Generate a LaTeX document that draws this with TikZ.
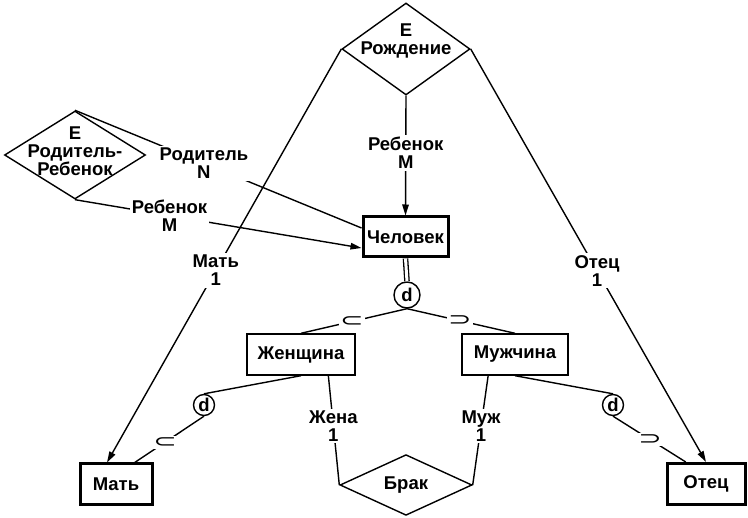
\documentclass[tikz,border=0pt]{standalone}
\usepackage{fontspec}
\setmainfont{Liberation Sans}
\newfontfamily\symfont{DejaVu Sans}
\usepackage{graphicx}
\usepackage{tikz}
\usetikzlibrary{positioning, arrows.meta, calc, shapes.geometric}

\begin{document}
\begin{tikzpicture}[x=1pt, y=-1pt,
  font=\bfseries\fontsize{18.5}{18}\selectfont,
  ent/.style={draw, line width=1.4pt, minimum height=41pt, inner sep=0pt},
  strong/.style={ent, line width=3pt},
  rel/.style={draw, diamond, line width=1.4pt, inner sep=0pt, align=center},
  disj/.style={draw, circle, line width=1.4pt, inner sep=0pt},
  lbl/.style={fill=white, inner sep=2pt, align=center},
  sub/.style={fill=white, inner sep=1.5pt, font=\symfont\mdseries\fontsize{20}{20}\selectfont},
  link/.style={line width=1.4pt},
  arr/.style={link, -{Triangle[length=11pt, width=6.5pt]}}]
\useasboundingbox (0,0) rectangle (748,518);

\node[rel, minimum width=128pt, minimum height=92pt] (birth) at (406,49) {};
\node[align=center] (birthtxt) at (406,41) {E\\Рождение};
\node[rel, minimum width=141pt, minimum height=88pt] (pc) at (75,155) {};
\node[align=center] (pctxt) at (75,151) {E\\Родитель-\\Ребенок};
\node[rel, minimum width=132pt, minimum height=60pt] (marriage) at (406,485) {Брак};

\node[strong, minimum width=85pt, minimum height=40pt] (person) at (405.5,237) {Человек};
\node[ent, minimum width=108pt] (woman) at (301,354.5) {Женщина};
\node[ent, minimum width=106pt] (man) at (515,354.5) {Мужчина};
\node[strong, minimum width=72pt] (mother) at (116,484.5) {Мать};
\node[strong, minimum width=78pt] (father) at (706,484) {Отец};

\node[disj, minimum size=26pt] (dd) at (407,295) {d};
\node[disj, minimum size=21pt] (wd) at (204,405) {d};
\node[disj, minimum size=21pt] (md) at (613,405) {d};

\draw[arr] (birth.south) -- node[lbl, pos=0.48] {Ребенок\\М} (person.north);
\draw[arr] (birth.west) -- node[lbl, pos=0.536] {Мать\\1} ([xshift=-9pt]mother.north);
\draw[arr] (birth.east) -- node[lbl, pos=0.537] {Отец\\1} (father.north);
\draw[link] (pc.north) -- node[lbl, pos=0.45] {Родитель\\N} ([yshift=9pt]person.west);
\draw[arr] (pc.south) -- node[lbl, pos=0.33] {Ребенок\\М} ([yshift=-11pt]person.west);
\draw[double, double distance=3pt, line width=1.3pt] (person.south) -- (dd.north);

\draw[link] (dd.south) -- node[sub, pos=0.52] {\scalebox{1.4}[0.9]{⊂}} (woman.north);
\draw[link] (dd.south) -- node[sub, pos=0.49] {\scalebox{1.4}[0.9]{⊃}} (man.north);
\draw[link] (woman.south) -- (wd.north);
\draw[link] (wd.south) -- node[sub, pos=0.56] {\scalebox{1.4}[0.9]{⊂}} ($(mother.north)!0.5!(mother.north east)$);
\draw[link] (man.south) -- (md.north);
\draw[link] (md.south) -- node[sub, pos=0.51] {\scalebox{1.4}[0.9]{⊃}} ($(father.north west)!0.5!(father.north)$);
\draw[link] ($(woman.south)!0.5!(woman.south east)$) -- node[lbl, pos=0.46] {Жена\\1} (marriage.west);
\draw[link] ($(man.south)!0.5!(man.south west)$) -- node[lbl, pos=0.46] {Муж\\1} (marriage.east);
\end{tikzpicture}
\end{document}
